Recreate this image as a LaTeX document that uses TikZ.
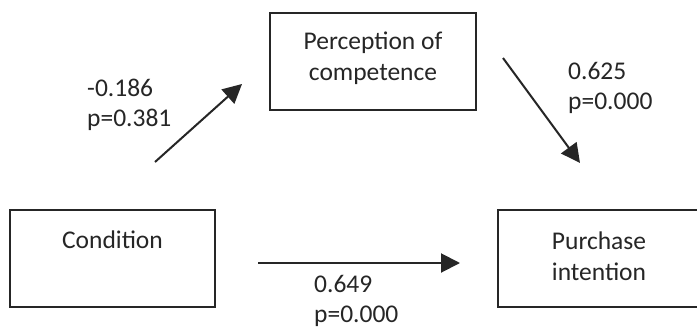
\documentclass[tikz,border=0pt]{standalone}
\usepackage{fontspec}
\setmainfont{Carlito}
\usetikzlibrary{arrows.meta}
\begin{document}
\begin{tikzpicture}[x=1pt,y=-1pt,
  varbox/.style={draw=black!85, line width=2pt, minimum width=#1, minimum height=97pt, inner sep=0pt},
  varbox/.default=205pt,
  txt/.style={font=\fontsize{25.5}{31}\selectfont, text=black!85, align=center, inner sep=0pt},
  coef/.style={font=\fontsize{25.5}{30}\selectfont, text=black!85, align=left, anchor=west, inner sep=0pt},
  path/.style={draw=black!85, line width=2pt, -{Triangle[length=19pt,width=19pt]}}]
\useasboundingbox (0,0) rectangle (697,330);
\clip (0,0) rectangle (697,330);
\fill[white] (0,0) rectangle (697,330);

% variables
\node[varbox=206pt] (perc) at (373,61) {};
\node[txt] (perctxt) at (373,58) {Perception of\\competence};
\node[varbox=205pt] (cond) at (112.5,258.5) {};
\node[txt, anchor=center] (condtxt) at (112.5,240) {Condition};
\node[varbox=220pt] (purch) at (608,258.5) {};
\node[txt] (purchtxt) at (599,256) {Purchase\\intention};

% path endpoints
\coordinate (aS) at (155,162);
\coordinate (aE) at (242,84);
\coordinate (bS) at (503,58);
\coordinate (bE) at (580,163);
\coordinate (cS) at (258,263);
\coordinate (cE) at (460,263);

\draw[path] (aS) -- (aE);
\draw[path] (bS) -- (bE);
\draw[path] (cS) -- (cE);

% coefficients
\node[coef] (ca) at (87,105) {-0.186\\p=0.381};
\node[coef] (cb) at (568,88) {0.625\\p=0.000};
\node[coef] (cc) at (314,301) {0.649\\p=0.000};
\end{tikzpicture}
\end{document}
